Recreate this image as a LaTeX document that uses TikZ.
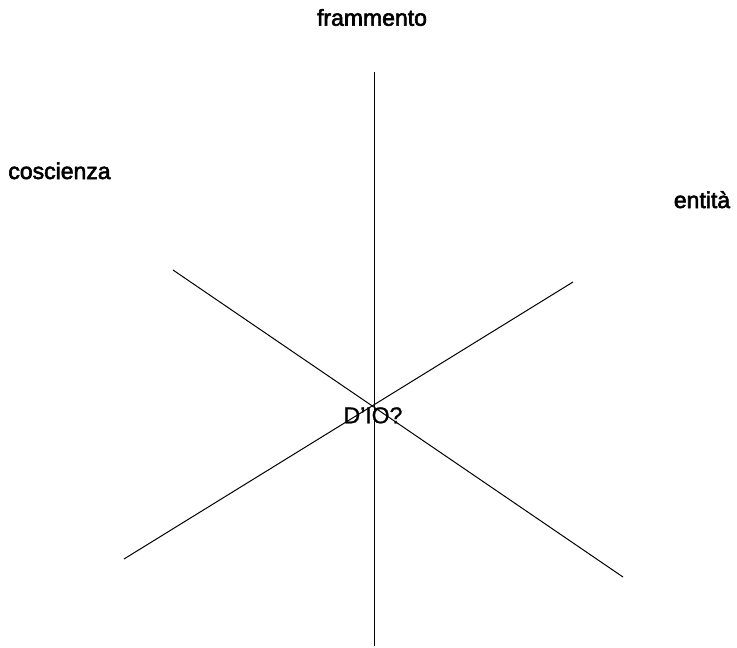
\documentclass[tikz,border=0pt]{standalone}
\usepackage{fontspec}
\setmainfont{Liberation Sans}
\newfontfamily\lblfont[FakeBold=2.5]{Liberation Sans}
\newfontfamily\ctrfont[FakeBold=1]{Liberation Sans}
\begin{document}
\begin{tikzpicture}[x=1pt,y=-1pt,
  lbl/.style={font=\lblfont\fontsize{23}{27}\selectfont, inner sep=0pt, anchor=base},
  ctr/.style={font=\ctrfont\fontsize{23}{27}\selectfont, inner sep=0pt, anchor=base},
  ray/.style={line width=1pt, black}]
\useasboundingbox (0,0) rectangle (737,648);
\coordinate (top) at (374,72);
\coordinate (bot) at (374,646);
\coordinate (tl) at (173,270);
\coordinate (br) at (623,577);
\coordinate (tr) at (573,282);
\coordinate (bl) at (124,559);
\draw[ray] (top) -- (bot);
\draw[ray] (tl) -- (br);
\draw[ray] (tr) -- (bl);
\node[lbl] (fr) at (372,25.7) {frammento};
\node[lbl] (co) at (59.5,179) {coscienza};
\node[lbl] (en) at (702,208) {entità};
\node[ctr] (dio) at (373,423.3) {D’IO?};
\end{tikzpicture}
\end{document}
